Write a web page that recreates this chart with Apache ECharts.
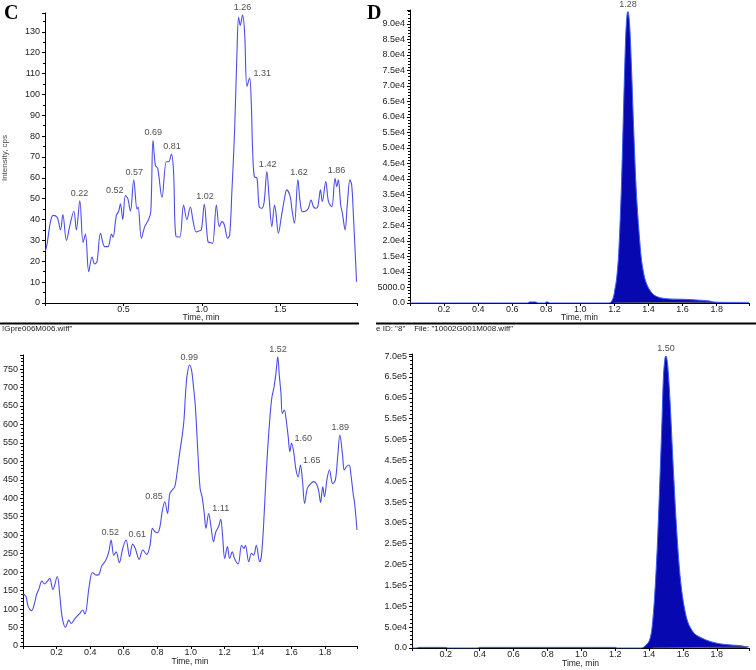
<!DOCTYPE html>
<html>
<head>
<meta charset="utf-8">
<script src="https://cdn.jsdelivr.net/npm/echarts/dist/echarts.min.js"></script>
<style>
html, body { margin: 0; padding: 0; background: #fff; }
#main { width: 756px; height: 670px; }
</style>
</head>
<body>
<div id="main"></div>
<script>
// panel C, upper trace (time in min, intensity in cps)
var cTopTime = [0.003, 0.014, 0.035, 0.052, 0.078, 0.099, 0.114, 0.137, 0.158, 0.184, 0.2, 0.222, 0.243, 0.258, 0.279, 0.3, 0.317, 0.332, 0.354, 0.381,
	0.402, 0.424, 0.434, 0.455, 0.47, 0.481, 0.496, 0.513, 0.528, 0.545, 0.566, 0.587, 0.594, 0.615, 0.636, 0.661, 0.675, 0.689, 0.704, 0.719,
	0.746, 0.774, 0.789, 0.806, 0.82, 0.835, 0.859, 0.884, 0.905, 0.927, 0.944, 0.965, 0.98, 0.997, 1.016, 1.039, 1.054, 1.069, 1.093, 1.112,
	1.129, 1.144, 1.165, 1.178, 1.192, 1.209, 1.224, 1.235, 1.245, 1.26, 1.273, 1.288, 1.305, 1.316, 1.324, 1.335, 1.352, 1.366, 1.383, 1.398,
	1.415, 1.43, 1.447, 1.464, 1.472, 1.489, 1.506, 1.528, 1.542, 1.564, 1.574, 1.591, 1.613, 1.627, 1.642, 1.663, 1.68, 1.697, 1.712, 1.727,
	1.74, 1.757, 1.769, 1.791, 1.808, 1.829, 1.85, 1.861, 1.871, 1.886, 1.897, 1.914, 1.928, 1.945, 1.956, 1.966, 1.987];
var cTopInt = [25, 28.6, 39, 42, 41, 35, 42.4, 30, 37, 44, 35, 49, 29, 33, 15, 22, 18.7, 20, 33.4, 27,
	27, 33, 31.5, 42, 44, 47.5, 40, 51.5, 50, 44, 59, 45, 46, 31, 36.6, 40, 44, 78, 66, 64.5,
	50.6, 67.7, 67.7, 71.4, 63, 32, 31.6, 47, 40, 46, 39.5, 34, 34.5, 35, 47.3, 29.4, 29, 28.6, 47, 36.6,
	39, 37.4, 31, 32.6, 53.4, 82, 119, 137, 133, 138, 130, 103.8, 107.8, 95, 74, 60.6, 59.8, 46.2, 45.4, 48.6,
	63, 50, 36.6, 47, 43.8, 33.4, 40.6, 50.2, 54.2, 51, 45.4, 38.2, 59, 48.6, 43.8, 44.1, 45.4, 49.4, 46.2, 45.4,
	46.2, 54.2, 48.6, 58.2, 48.6, 46.2, 59.8, 55.8, 59, 47, 43, 35, 47, 59, 56.6, 43.8, 10.2];
var cTopPeakTime = [0.22, 0.52, 0.57, 0.69, 0.81, 1.02, 1.26, 1.31, 1.42, 1.62, 1.86];
var cTopPeakInt = [49, 51.5, 59, 78, 71.4, 47.3, 138, 107.8, 63, 59, 59.8];

// panel C, lower trace
var cBotTime = [0.002, 0.018, 0.031, 0.051, 0.071, 0.08, 0.096, 0.112, 0.129, 0.143, 0.159, 0.178, 0.204, 0.218, 0.233, 0.253, 0.273, 0.286, 0.306, 0.325,
	0.341, 0.355, 0.369, 0.394, 0.414, 0.437, 0.453, 0.469, 0.488, 0.502, 0.512, 0.525, 0.541, 0.555, 0.574, 0.594, 0.614, 0.635, 0.653, 0.669,
	0.692, 0.714, 0.737, 0.757, 0.771, 0.786, 0.802, 0.816, 0.829, 0.845, 0.861, 0.874, 0.888, 0.904, 0.92, 0.933, 0.949, 0.959, 0.969, 0.978,
	0.992, 1.005, 1.015, 1.027, 1.041, 1.055, 1.067, 1.08, 1.09, 1.106, 1.12, 1.135, 1.149, 1.165, 1.178, 1.188, 1.202, 1.218, 1.231, 1.247,
	1.26, 1.282, 1.302, 1.316, 1.325, 1.345, 1.361, 1.375, 1.39, 1.41, 1.42, 1.433, 1.449, 1.467, 1.482, 1.496, 1.508, 1.518, 1.527, 1.537,
	1.545, 1.557, 1.567, 1.58, 1.59, 1.6, 1.614, 1.625, 1.639, 1.653, 1.665, 1.678, 1.694, 1.714, 1.731, 1.747, 1.761, 1.773, 1.786, 1.796,
	1.812, 1.826, 1.845, 1.861, 1.875, 1.888, 1.904, 1.914, 1.927, 1.943, 1.953, 1.967, 1.976, 1.99];
var cBotInt = [140.8, 133.6, 106.5, 95.7, 120, 138, 156, 176, 168, 174, 183, 153, 188, 143, 79, 50.5, 70, 61, 72, 82,
	90, 97.5, 86.6, 160.6, 199, 192, 194, 217, 228, 242, 257, 287, 246, 255, 225.6, 264, 287, 242, 276, 264,
	234.6, 260, 248, 273, 318.5, 309.5, 306.8, 323, 363.7, 390.7, 359, 411.5, 422, 431, 476.5, 521.6, 571, 612, 688, 734,
	761, 745, 705, 648, 530.6, 427, 404, 359, 318.5, 359, 323, 282.5, 309.5, 323, 343, 305, 237, 269, 237, 255,
	237, 222, 273, 264, 273, 228, 251, 246, 273, 228, 242, 323, 467, 594, 670.5, 702, 743, 783, 733.6, 684,
	630, 639, 616, 567, 526, 549, 521.6, 481, 458, 490, 449, 386, 427, 440, 445, 440, 422, 389, 431, 404,
	454, 476.5, 440, 449, 512.6, 571, 517, 476.5, 485.5, 490, 467, 413, 386, 314];
var cBotPeakTime = [0.52, 0.61, 0.85, 0.99, 1.11, 1.52, 1.60, 1.65, 1.89];
var cBotPeakInt = [287, 287, 390.7, 761, 359, 783, 549, 490, 571];

// panel D, upper trace
var dTopTime = [0, 0.69, 0.7, 0.72, 0.74, 0.75, 0.79, 0.8, 0.81, 0.82, 1.17, 1.192, 1.202, 1.212, 1.225, 1.241, 1.255, 1.267, 1.275, 1.28,
	1.29, 1.3, 1.314, 1.329, 1.345, 1.359, 1.378, 1.398, 1.427, 1.467, 1.525, 1.604, 1.682, 1.76, 1.78, 1.86, 1.99];
var dTopInt = [0, 0, 300, 350, 300, 0, 0, 350, 300, 0, 0, 1500, 4200, 7400, 16000, 37500, 65500, 87000, 93400, 94000,
	89000, 76200, 54700, 35400, 22500, 13900, 8000, 5050, 2800, 1700, 1300, 1200, 970, 650, 320, 200, 200];
var dTopBaseTime = [1.2, 1.78];
var dTopBaseInt = [0, 300];
var dTopPeakTime = [1.28];
var dTopPeakInt = [94000];

// panel D, lower trace
var dBotTime = [0, 0.03, 0.04, 0.2, 0.21, 0.39, 0.4, 1.2, 1.21, 1.354, 1.383, 1.403, 1.417, 1.432, 1.448, 1.462, 1.476, 1.485, 1.495, 1.5,
	1.51, 1.524, 1.54, 1.56, 1.579, 1.599, 1.628, 1.667, 1.716, 1.766, 1.825, 1.884, 1.942, 1.972, 1.99];
var dBotInt = [0, 0, 1500, 1500, 0, 0, 1500, 1500, 0, 0, 7200, 19000, 47000, 119000, 239000, 383000, 542500, 654000, 698000, 700000,
	678000, 590000, 454600, 302800, 191000, 119000, 63000, 35000, 23000, 15000, 9600, 7200, 5600, 3200, 3000];
var dBotBaseTime = [1.42, 1.98];
var dBotBaseInt = [0, 2500];
var dBotPeakTime = [1.50];
var dBotPeakInt = [700000];

// where the peak labels sit (default is above the peak)
var cTopLabelSide = { '0.52': 'left', '1.31': 'right' };
var cBotLabelSide = { '0.61': 'right', '0.85': 'left', '1.11': 'right', '1.60': 'right', '1.65': 'right' };

var FONT = '"Liberation Sans", Arial, sans-serif';
var traceBlue = '#4c4ce8';

function pairs(ts, vs) {
	return ts.map(function(t, i) {
		return [t, vs[i]];
	});
}

function peakData(ts, vs, side) {
	return ts.map(function(t, i) {
		var key = t.toFixed(2);
		var pos = side[key] || 'top';
		var lab = { position: pos, distance: 3 };
		if (pos !== 'top') lab.offset = [0, -5];
		return { value: [t, vs[i]], label: lab };
	});
}

function onStep(v, step) {
	return Math.abs(v / step - Math.round(v / step)) < 1e-6;
}

function xAxisFor(idx, step, gap) {
	return {
		type: 'value',
		gridIndex: idx,
		min: 0,
		max: 1.99,
		interval: step,
		name: 'Time, min',
		nameLocation: 'middle',
		nameGap: gap,
		nameMoveOverlap: false,
		nameTextStyle: { fontFamily: FONT, fontSize: 8.5, color: '#222' },
		axisLine: { onZero: false, lineStyle: { color: '#000', width: 1 } },
		axisTick: { length: 3, lineStyle: { color: '#000' } },
		splitLine: { show: false },
		axisLabel: {
			fontFamily: FONT, fontSize: 9, color: '#222', margin: 2,
			formatter: function(v) {
				if (v <= 0 || !onStep(v, step)) return '';
				return v.toFixed(1);
			}
		}
	};
}

function yAxisFor(idx, max, step, fmt, minor) {
	return {
		type: 'value',
		gridIndex: idx,
		min: 0,
		max: max,
		interval: step,
		axisLine: { show: true, lineStyle: { color: '#000', width: 1 } },
		axisTick: { show: true, length: 3, lineStyle: { color: '#000' } },
		minorTick: { show: true, splitNumber: minor, length: 2, lineStyle: { color: '#000' } },
		splitLine: { show: false },
		axisLabel: {
			fontFamily: FONT, fontSize: 9, color: '#222', margin: 5,
			formatter: function(v) {
				if (!onStep(v, step)) return '';
				return fmt(v);
			}
		}
	};
}

function peakSeries(idx, data) {
	return {
		type: 'scatter',
		xAxisIndex: idx,
		yAxisIndex: idx,
		symbolSize: 0,
		silent: true,
		data: data,
		label: {
			show: true,
			fontFamily: FONT,
			fontSize: 9,
			color: '#222',
			formatter: function(p) {
				return p.value[0].toFixed(2);
			}
		},
		z: 5
	};
}

var myChart = echarts.init(document.getElementById('main'));

var yAxisC1 = yAxisFor(0, 139, 10, function(v) { return String(v); }, 2);
yAxisC1.name = 'Intensity, cps';
yAxisC1.nameLocation = 'middle';
yAxisC1.nameGap = 36;
yAxisC1.nameRotate = 90;
yAxisC1.nameMoveOverlap = false;
yAxisC1.nameTextStyle = { fontFamily: FONT, fontSize: 8, color: '#444' };

var option = {
	backgroundColor: '#fff',
	animation: false,
	grid: [
		{ left: 45, top: 13, width: 312, height: 290 },
		{ left: 410, top: 10, width: 339, height: 293 },
		{ left: 18, top: 355, width: 339, height: 291 },
		{ left: 412, top: 354, width: 337, height: 294 }
	],
	xAxis: [xAxisFor(0, 0.5, 10), xAxisFor(1, 0.2, 10), xAxisFor(2, 0.2, 11), xAxisFor(3, 0.2, 11)],
	yAxis: [
		yAxisC1,
		yAxisFor(1, 94500, 5000, function(v) {
			if (v === 0) return '0.0';
			if (v < 1e4) return v.toFixed(1);
			return (v / 1e4).toFixed(1) + 'e4';
		}, 5),
		yAxisFor(2, 788, 50, function(v) { return String(v); }, 5),
		yAxisFor(3, 705000, 50000, function(v) {
			if (v === 0) return '0.0';
			if (v < 1e5) return (v / 1e4).toFixed(1) + 'e4';
			return (v / 1e5).toFixed(1) + 'e5';
		}, 5)
	],
	graphic: [
		{ type: 'text', left: 4, top: 4, style: { text: 'C', font: 'bold 20px "Liberation Serif", serif', fill: '#000' } },
		{ type: 'text', left: 367, top: 4, style: { text: 'D', font: 'bold 20px "Liberation Serif", serif', fill: '#000' } },
		{ type: 'line', shape: { x1: 0, y1: 323.5, x2: 359, y2: 323.5 }, style: { stroke: '#000', lineWidth: 2 } },
		{ type: 'line', shape: { x1: 376, y1: 323.5, x2: 756, y2: 323.5 }, style: { stroke: '#000', lineWidth: 2 } },
		{ type: 'text', left: 2, top: 325, style: { text: '!Gpre006M006.wiff"', font: '8px ' + FONT, fill: '#222' } },
		{ type: 'text', left: 376, top: 325, style: { text: 'e ID: "8"    File: "10002G001M008.wiff"', font: '8px ' + FONT, fill: '#222' } }
	],
	series: [
		{
			type: 'line', xAxisIndex: 0, yAxisIndex: 0, showSymbol: false, smooth: 0.35,
			lineStyle: { color: traceBlue, width: 1.1 }, data: pairs(cTopTime, cTopInt)
		},
		peakSeries(0, peakData(cTopPeakTime, cTopPeakInt, cTopLabelSide)),
		{
			type: 'line', xAxisIndex: 1, yAxisIndex: 1, showSymbol: false, smooth: 0.3,
			lineStyle: { color: '#3a5cf5', width: 1 }, areaStyle: { color: '#0808b0', opacity: 1 },
			data: pairs(dTopTime, dTopInt)
		},
		{
			type: 'line', xAxisIndex: 1, yAxisIndex: 1, showSymbol: false,
			lineStyle: { color: '#666', width: 1 }, data: pairs(dTopBaseTime, dTopBaseInt)
		},
		peakSeries(1, peakData(dTopPeakTime, dTopPeakInt, {})),
		{
			type: 'line', xAxisIndex: 2, yAxisIndex: 2, showSymbol: false, smooth: 0.35,
			lineStyle: { color: traceBlue, width: 1.1 }, data: pairs(cBotTime, cBotInt)
		},
		peakSeries(2, peakData(cBotPeakTime, cBotPeakInt, cBotLabelSide)),
		{
			type: 'line', xAxisIndex: 3, yAxisIndex: 3, showSymbol: false, smooth: 0.3,
			lineStyle: { color: '#3a5cf5', width: 1 }, areaStyle: { color: '#0808b0', opacity: 1 },
			data: pairs(dBotTime, dBotInt)
		},
		{
			type: 'line', xAxisIndex: 3, yAxisIndex: 3, showSymbol: false,
			lineStyle: { color: '#666', width: 1 }, data: pairs(dBotBaseTime, dBotBaseInt)
		},
		peakSeries(3, peakData(dBotPeakTime, dBotPeakInt, {}))
	]
};

myChart.setOption(option);
</script>
</body>
</html>
